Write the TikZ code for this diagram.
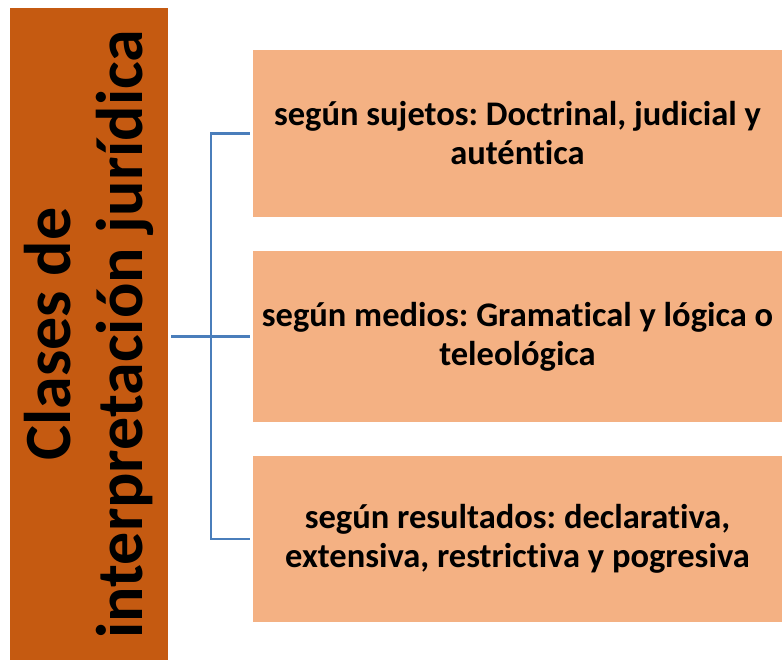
\documentclass[tikz,border=0pt]{standalone}
\usepackage{fontspec}
\setmainfont{Carlito}[Ligatures=NoCommon]
\frenchspacing
\definecolor{titulo}{HTML}{C55A11}
\definecolor{claro}{HTML}{F4B183}
\definecolor{azul}{HTML}{4A7EBB}

\begin{document}
\begin{tikzpicture}[x=1pt,y=-1pt,
    clase/.style={fill=claro, minimum width=529pt, inner sep=0pt, align=center,
                  font=\bfseries\fontsize{34.5}{39}\selectfont},
    rama/.style={draw=azul, line width=2.5pt}
  ]
  \useasboundingbox (0,0) rectangle (782,660);
  % Title box
  \node[fill=titulo, rotate=90, minimum width=652pt, minimum height=158pt, inner sep=0pt,
        align=center, font=\bfseries\fontsize{66}{72}\selectfont] (titulo) at (89,334)
        {Clases de\\interpretación jurídica};

  % Classes
  \node[clase, minimum height=167pt] (sujetos) at (517.5,133.5)
        {según sujetos: Doctrinal, judicial y\\auténtica};
  \node[clase, minimum height=171pt] (medios) at (517.5,336.5)
        {según medios: Gramatical y lógica o\\teleológica};
  \node[clase, minimum height=166pt] (resultados) at (517.5,539)
        {según resultados: declarativa,\\extensiva, restrictiva y pogresiva};

  % Connectors
  \coordinate (fork) at (211,336.5);
  \draw[rama] ([xshift=3pt]fork -| titulo.south) -- ([xshift=-3pt]medios.west);
  \draw[rama] ([xshift=-3pt]sujetos.west) -| (fork) |- ([xshift=-3pt]resultados.west);
\end{tikzpicture}
\end{document}
